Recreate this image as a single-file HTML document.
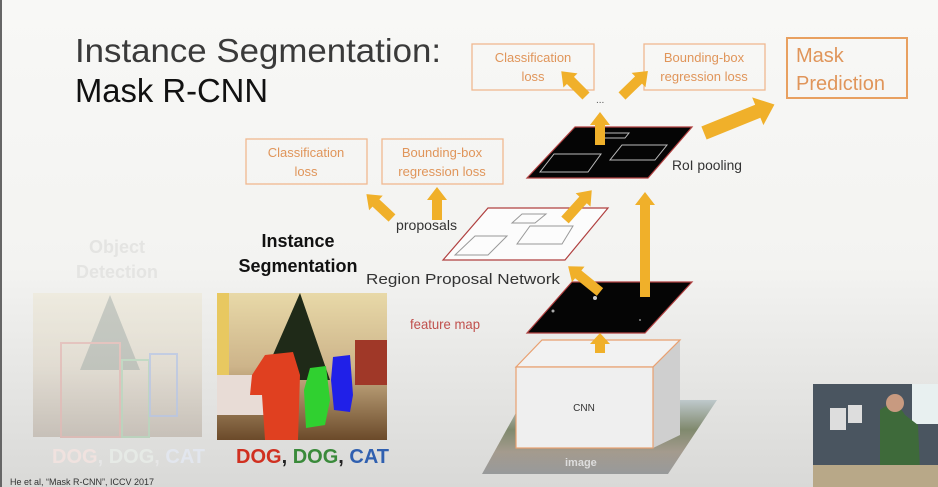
<!DOCTYPE html>
<html><head><meta charset="utf-8"><style>
html,body{margin:0;padding:0;}
body{width:938px;height:487px;overflow:hidden;}
svg{display:block;}
text{font-family:"Liberation Sans",sans-serif;}
</style></head><body>
<svg width="938" height="487" viewBox="0 0 938 487" xmlns="http://www.w3.org/2000/svg">
<defs>
<linearGradient id="bg" x1="0" y1="0" x2="0" y2="1">
<stop offset="0" stop-color="#f8f8f6"/><stop offset="0.55" stop-color="#f3f3f1"/><stop offset="1" stop-color="#d9d9d7"/>
</linearGradient>
<linearGradient id="room" x1="0" y1="0" x2="0" y2="1">
<stop offset="0" stop-color="#e8d9a8"/><stop offset="0.5" stop-color="#cdb48a"/><stop offset="1" stop-color="#6b4a2a"/>
</linearGradient>
<linearGradient id="img" x1="0" y1="0" x2="0" y2="1">
<stop offset="0" stop-color="#b8c4c8"/><stop offset="0.4" stop-color="#6f7a5a"/><stop offset="0.7" stop-color="#9a8f80"/><stop offset="1" stop-color="#8c8f90"/>
</linearGradient>
</defs>
<rect width="938" height="487" fill="url(#bg)"/>
<rect x="0" y="0" width="2" height="487" fill="#666"/>

<text x="75" y="62" font-size="33" fill="#3a3a3a" textLength="366" lengthAdjust="spacingAndGlyphs">Instance Segmentation:</text>
<text x="75" y="102" font-size="33" fill="#111" textLength="193" lengthAdjust="spacingAndGlyphs">Mask R-CNN</text>

<g fill="none" stroke="#f0b890" stroke-width="1.3">
<rect x="472" y="44" width="122" height="46"/>
<rect x="644" y="44" width="121" height="46"/>
<rect x="246" y="139" width="121" height="45"/>
<rect x="382" y="139" width="121" height="45"/>
</g>
<rect x="787" y="38" width="120" height="60" fill="none" stroke="#e8a060" stroke-width="2"/>
<g fill="#e0955a" font-size="13" text-anchor="middle">
<text x="533" y="62">Classification</text><text x="533" y="81">loss</text>
<text x="704" y="62">Bounding-box</text><text x="704" y="81">regression loss</text>
<text x="306" y="157">Classification</text><text x="306" y="176">loss</text>
<text x="442" y="157">Bounding-box</text><text x="442" y="176">regression loss</text>
</g>
<g fill="#e0955a" font-size="20">
<text x="796" y="62">Mask</text><text x="796" y="90">Prediction</text>
</g>

<polygon points="575,127 692,127 648,178 527,178" fill="#050505" stroke="#b04040" stroke-width="1.2"/>
<g fill="none" stroke="#bbb" stroke-width="1">
<polygon points="540,172 588,172 601,154 554,154"/>
<polygon points="610,160 655,160 667,145 622,145"/>
<polygon points="600,138 625,138 629,133 604,133"/>
</g>
<text x="672" y="170" font-size="14" fill="#333" textLength="70" lengthAdjust="spacingAndGlyphs">RoI pooling</text>
<text x="596" y="103" font-size="10" fill="#555">...</text>

<polygon points="488,208 608,208 565,260 443,260" fill="#fcfcfc" stroke="#b04040" stroke-width="1.2"/>
<g fill="none" stroke="#999" stroke-width="1">
<polygon points="455,255 488,255 507,236 475,236"/>
<polygon points="517,244 562,244 573,226 530,226"/>
<polygon points="512,223 535,223 546,214 522,214"/>
</g>
<text x="396" y="230" font-size="14" fill="#333" textLength="61" lengthAdjust="spacingAndGlyphs">proposals</text>
<text x="366" y="284" font-size="15" fill="#333" textLength="194" lengthAdjust="spacingAndGlyphs">Region Proposal Network</text>

<polygon points="572,282 692,282 645,333 527,333" fill="#050505" stroke="#b04040" stroke-width="1.2"/>
<circle cx="595" cy="298" r="2" fill="#ccc"/><circle cx="553" cy="311" r="1.5" fill="#aaa"/><circle cx="640" cy="320" r="1" fill="#888"/>
<text x="410" y="329" font-size="14" fill="#c0504d" textLength="70" lengthAdjust="spacingAndGlyphs">feature map</text>

<polygon points="523,400 717,400 668,474 482,474" fill="url(#img)" opacity="0.85"/>
<text x="565" y="466" font-size="11" fill="#ddd" font-weight="bold">image</text>

<polygon points="516,367 542,340 680,340 653,367" fill="#f2f2f2" stroke="#e8a070" stroke-width="1.2"/>
<polygon points="653,367 680,340 680,435 653,448" fill="#cfcfcf"/>
<line x1="653" y1="367" x2="680" y2="340" stroke="#e8a070" stroke-width="1.2"/>
<rect x="516" y="367" width="137" height="81" fill="#efefef" stroke="#e8a070" stroke-width="1.2"/>
<text x="584" y="411" font-size="10" fill="#333" text-anchor="middle">CNN</text>

<g fill="#f0b02a">
<g transform="translate(600,292) rotate(-141)"><polygon points="0,-5 28,-5 28,-10 41,0 28,10 28,5 0,5"/></g>
<g transform="translate(645,297) rotate(-90)"><polygon points="0,-5 92,-5 92,-10 105,0 92,10 92,5 0,5"/></g>
<g transform="translate(565,220) rotate(-48)"><polygon points="0,-5 27,-5 27,-10 40,0 27,10 27,5 0,5"/></g>
<g transform="translate(600,145) rotate(-90)"><polygon points="0,-5 20,-5 20,-10 33,0 20,10 20,5 0,5"/></g>
<g transform="translate(586,96) rotate(-135)"><polygon points="0,-5 22,-5 22,-10 35,0 22,10 22,5 0,5"/></g>
<g transform="translate(622,96) rotate(-44)"><polygon points="0,-5 23,-5 23,-10 36,0 23,10 23,5 0,5"/></g>
<g transform="translate(704,133) rotate(-22)"><polygon points="0,-7 58,-7 58,-15 76,0 58,15 58,7 0,7"/></g>
<g transform="translate(392,218) rotate(-137)"><polygon points="0,-5 22,-5 22,-10 35,0 22,10 22,5 0,5"/></g>
<g transform="translate(437,220) rotate(-90)"><polygon points="0,-5 20,-5 20,-10 33,0 20,10 20,5 0,5"/></g>
<g transform="translate(600,353) rotate(-90)"><polygon points="0,-5 9,-5 9,-10 20,0 9,10 9,5 0,5"/></g>
</g>

<g fill="#e4e4e2" font-size="18" font-weight="bold" text-anchor="middle">
<text x="117" y="253">Object</text><text x="117" y="278">Detection</text>
</g>
<g opacity="0.2">
<rect x="33" y="293" width="169" height="144" fill="url(#room)"/>
<polygon points="110,295 140,370 80,370" fill="#2a3a20"/>
<rect x="61" y="343" width="59" height="94" fill="none" stroke="#d03020" stroke-width="2"/>
<rect x="122" y="360" width="27" height="77" fill="none" stroke="#30a040" stroke-width="2"/>
<rect x="150" y="354" width="27" height="62" fill="none" stroke="#3060d0" stroke-width="2"/>
</g>
<text x="52" y="463" font-size="20" font-weight="bold" fill="#f0e2df">DOG<tspan fill="#e6e6e6">, </tspan><tspan fill="#e6eae6">DOG</tspan><tspan fill="#e6e6e6">, </tspan><tspan fill="#e2e6ee">CAT</tspan></text>

<g font-size="18" font-weight="bold" fill="#111" text-anchor="middle">
<text x="298" y="247">Instance</text><text x="298" y="272">Segmentation</text>
</g>
<rect x="217" y="293" width="170" height="147" fill="url(#room)"/>
<rect x="217" y="293" width="12" height="100" fill="#e8c860"/>
<polygon points="300,293 330,380 262,380" fill="#1f2a18"/>
<rect x="355" y="340" width="32" height="45" fill="#a03828"/>
<rect x="217" y="375" width="50" height="40" fill="#e8dcd6"/>
<path d="M265,355 L293,352 L300,375 L298,440 L265,440 L262,395 L250,395 L252,375 Z" fill="#e04020"/>
<path d="M310,368 L326,366 L330,400 L325,425 L306,428 L304,390 Z" fill="#30d030"/>
<path d="M333,357 L350,355 L353,395 L350,412 L334,410 L331,380 Z" fill="#2020e8"/>
<text x="236" y="463" font-size="20" font-weight="bold" fill="#d03020">DOG<tspan fill="#222">, </tspan><tspan fill="#3a8a3a">DOG</tspan><tspan fill="#222">, </tspan><tspan fill="#3060b0">CAT</tspan></text>

<text x="10" y="485" font-size="9" fill="#333">He et al, “Mask R-CNN”, ICCV 2017</text>

<rect x="813" y="384" width="125" height="103" fill="#4a5560"/>
<rect x="912" y="384" width="26" height="40" fill="#e8f0f0"/>
<rect x="830" y="408" width="16" height="22" fill="#ddd"/>
<rect x="848" y="405" width="14" height="18" fill="#ddd"/>
<path d="M880,410 Q895,398 905,415 L918,425 L920,470 L880,470 Z" fill="#3e6a3a"/>
<circle cx="895" cy="403" r="9" fill="#c89a80"/>
<rect x="813" y="465" width="125" height="22" fill="#b8a888"/>
</svg>
</body></html>
